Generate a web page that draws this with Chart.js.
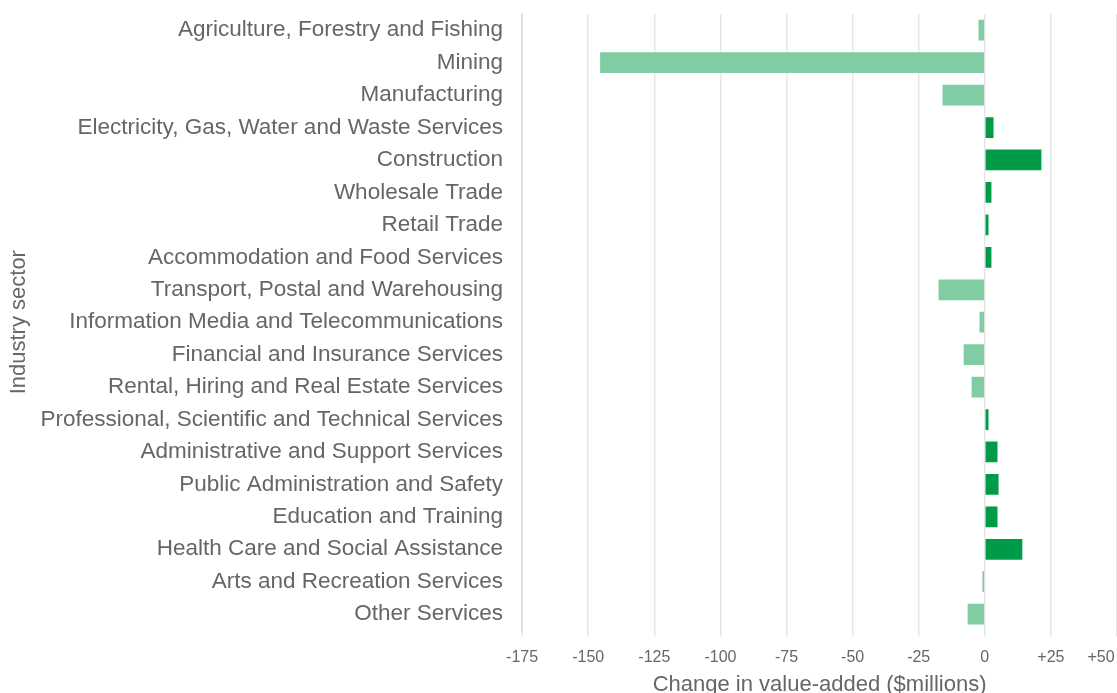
<!DOCTYPE html>
<html>
<head>
<meta charset="utf-8">
<script src="https://cdn.jsdelivr.net/npm/chart.js@4"></script>
<style>
  html, body { margin: 0; padding: 0; background: #fff; overflow: hidden; }
  #wrap { width: 1117px; height: 698px; }
</style>
</head>
<body>
<div id="wrap"><canvas id="chart"></canvas></div>
<script>
// Industry sectors and change in value-added ($millions)
const sectors = [
    'Agriculture, Forestry and Fishing',
    'Mining',
    'Manufacturing',
    'Electricity, Gas, Water and Waste Services',
    'Construction',
    'Wholesale Trade',
    'Retail Trade',
    'Accommodation and Food Services',
    'Transport, Postal and Warehousing',
    'Information Media and Telecommunications',
    'Financial and Insurance Services',
    'Rental, Hiring and Real Estate Services',
    'Professional, Scientific and Technical Services',
    'Administrative and Support Services',
    'Public Administration and Safety',
    'Education and Training',
    'Health Care and Social Assistance',
    'Arts and Recreation Services',
    'Other Services'
];
const changeValues = [-2.4, -145.5, -16, 3.3, 21.4, 2.5, 1.4, 2.5, -17.5, -2, -8, -5, 1.4, 4.8, 5.2, 4.8, 14.2, -0.9, -6.5];
const xTicks = [-175, -150, -125, -100, -75, -50, -25, 0, 25, 50];

const posColor = '#009b48';
const negColor = '#80cda3';
const textColor = '#666666';
const fontFamily = 'Liberation Sans, Arial, sans-serif';

const ctx = document.getElementById('chart').getContext('2d');
new Chart(ctx, {
    type: 'bar',
    data: {
        labels: sectors,
        datasets: [{
            data: changeValues,
            backgroundColor: changeValues.map(v => v >= 0 ? posColor : negColor),
            borderWidth: 0,
            barPercentage: 0.64,
            categoryPercentage: 1
        }]
    },
    options: {
        indexAxis: 'y',
        responsive: true,
        maintainAspectRatio: false,
        animation: false,
        layout: { padding: { top: 14, right: 0, left: 2, bottom: 0 } },
        plugins: { legend: { display: false }, tooltip: { enabled: false } },
        scales: {
            x: {
                min: -175,
                max: 50,
                afterFit: (s) => { s.paddingRight = 0; },
                afterBuildTicks: (s) => { s.ticks = xTicks.map(v => ({ value: v })); },
                grid: { color: '#e6e6e6', lineWidth: 1.5, tickLength: 6, drawTicks: true },
                border: { display: false },
                ticks: {
                    color: textColor,
                    font: { family: fontFamily, size: 16 },
                    padding: 12,
                    maxRotation: 0,
                    // last label sits inside the canvas edge like in the original
                    callback: (v) => v > 0 ? (v === 50 ? '+50' + '\u2003\u2003' : '+' + v) : String(v)
                },
                title: {
                    display: true,
                    text: 'Change in value-added ($millions)',
                    color: textColor,
                    font: { family: fontFamily, size: 22 },
                    padding: { top: -8, bottom: 0 }
                }
            },
            y: {
                afterFit: (s) => { s.paddingTop = 0; s.paddingBottom = 0; s.width -= 9; },
                grid: { display: false },
                border: { display: true, color: '#d3d9ee', width: 1.5 },
                ticks: {
                    color: textColor,
                    font: { family: fontFamily, size: 22.5 },
                    padding: 11,
                    autoSkip: false
                },
                title: {
                    display: true,
                    text: 'Industry sector',
                    color: textColor,
                    font: { family: fontFamily, size: 22 },
                    padding: { top: 4, bottom: 6 }
                }
            }
        }
    }
});
</script>
</body>
</html>
